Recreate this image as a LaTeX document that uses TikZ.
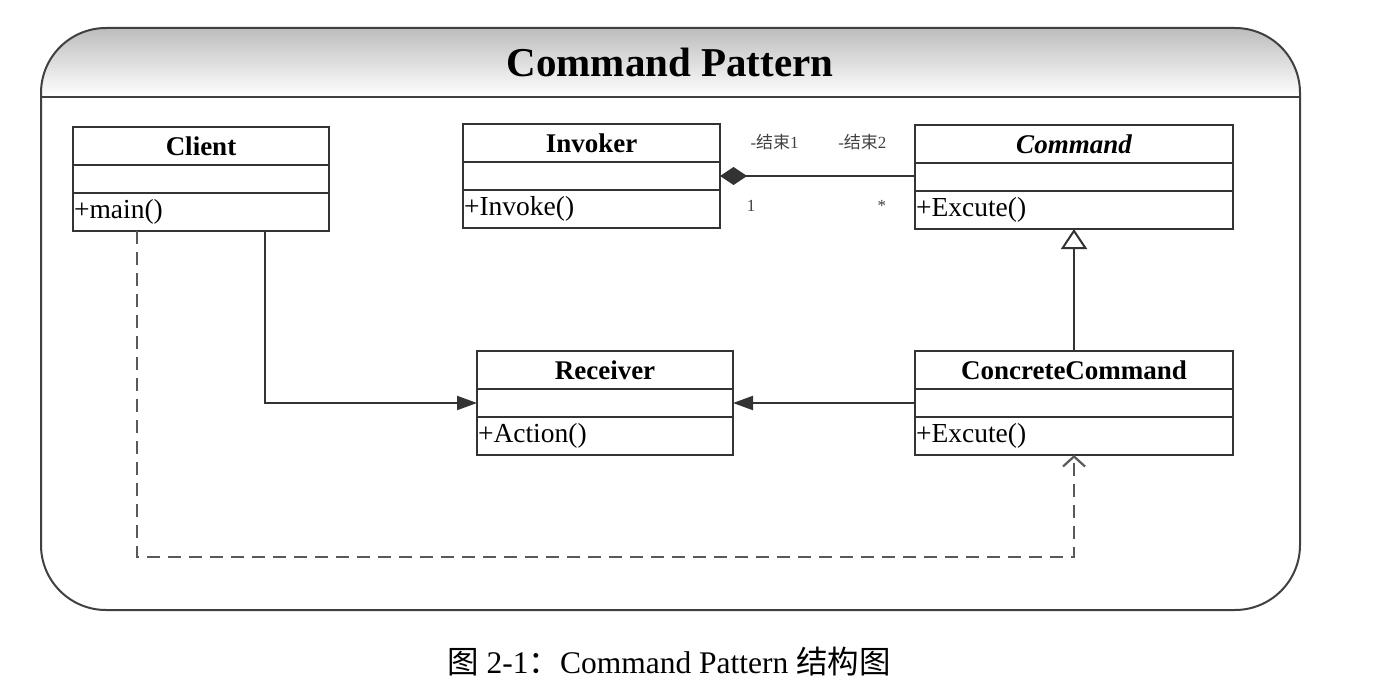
\documentclass[tikz,border=0pt]{standalone}
\usepackage{fontspec}
\setmainfont{Liberation Serif}
\newfontfamily\cjk{Noto Sans CJK SC}
\usetikzlibrary{arrows.meta, positioning, calc}

\begin{document}
\begin{tikzpicture}[
        x=1pt, y=-1pt,
        node distance=0pt,
        classhead/.style={rectangle, draw=black!80, line width=2pt, text width=#1, align=center, minimum height=38pt, inner xsep=1pt, inner ysep=0pt, outer sep=0pt, font=\fontsize{27}{27}\selectfont\bfseries},
        classattr/.style={rectangle, draw=black!80, line width=2pt, text width=#1, minimum height=28pt, inner xsep=1pt, inner ysep=0pt, outer sep=0pt},
        classop/.style={rectangle, draw=black!80, line width=2pt, text width=#1, align=left, minimum height=38pt, inner xsep=1pt, inner ysep=0pt, outer sep=0pt, font=\fontsize{27.5}{27.5}\selectfont},
        role/.style={font=\fontsize{17}{17}\selectfont, text=black!75, inner sep=1pt},
        line/.style={draw=black!80, line width=2pt},
        assoc/.style={line, -{Triangle[length=20pt, width=14pt]}},
        dep/.style={draw=black!65, line width=2.2pt, dash pattern=on 13pt off 8pt, -{Straight Barb[length=10pt, width=22pt]}}
    ]
        \useasboundingbox (0,0) rectangle (1373,687);

        % frame with shaded title bar
        \begin{scope}
            \clip[rounded corners=65pt] (41,28) rectangle (1300,610);
            \shade[top color=black!26, bottom color=white] (41,28) rectangle (1300,97);
        \end{scope}
        \draw[black!75, line width=2pt, rounded corners=65pt] (41,28) rectangle (1300,610);
        \draw[black!75, line width=2pt] (41,97) -- (1300,97);
        \node[font=\fontsize{41}{41}\selectfont\bfseries] (title) at (670,62) {Command Pattern};

        % classes
        \node [classhead=254pt, anchor=north west] (client-h) at (73,127) {Client};
        \node [classattr=254pt, below=of client-h] (client-a) {};
        \node [classop=254pt, below=of client-a] (client-o) {+main()};

        \node [classhead=255pt, anchor=north west] (invoker-h) at (463,124) {Invoker};
        \node [classattr=255pt, below=of invoker-h] (invoker-a) {};
        \node [classop=255pt, below=of invoker-a] (invoker-o) {+Invoke()};

        \node [classhead=316pt, anchor=north west, font=\fontsize{27}{27}\selectfont\bfseries\itshape] (command-h) at (915,125) {Command};
        \node [classattr=316pt, below=of command-h] (command-a) {};
        \node [classop=316pt, below=of command-a] (command-o) {+Excute()};

        \node [classhead=254pt, anchor=north west] (receiver-h) at (477,351) {Receiver};
        \node [classattr=254pt, below=of receiver-h] (receiver-a) {};
        \node [classop=254pt, below=of receiver-a] (receiver-o) {+Action()};

        \node [classhead=316pt, anchor=north west] (concrete-h) at (915,351) {ConcreteCommand};
        \node [classattr=316pt, below=of concrete-h] (concrete-a) {};
        \node [classop=316pt, below=of concrete-a] (concrete-o) {+Excute()};

        % relations
        \path [line, {Diamond[length=27pt, width=18pt]}-] (invoker-a.east) --
            node[role, pos=0.28, yshift=34pt] (end1) {-{\cjk 结束}1}
            node[role, pos=0.73, yshift=34pt] (end2) {-{\cjk 结束}2}
            node[role, pos=0.16, yshift=-30pt] (mult1) {1}
            node[role, pos=0.83, yshift=-30pt] (mult2) {*}
            (invoker-a.east -| command-a.west);
        \path [line, -{Triangle[open, fill=white, length=20pt, width=26pt]}] (concrete-h.north) -- (command-o.south);

        \coordinate (clientsolid) at ($(client-o.south west)!0.75!(client-o.south east)$);
        \path [assoc] (clientsolid) |- (receiver-a.west);
        \path [assoc] (concrete-a.west) -- (receiver-a.east);

        \coordinate (clientdash) at ($(client-o.south west)!0.25!(client-o.south east)$);
        \coordinate (dashturn) at (137,557);
        \path [dep] (clientdash) -- (dashturn) -| (concrete-o.south);

        % caption
        \node[font=\fontsize{31.5}{31.5}\selectfont] (caption) at (669,662) {{\cjk 图} 2-1{\cjk ：}Command Pattern {\cjk 结构图}};
    \end{tikzpicture}
\end{document}
